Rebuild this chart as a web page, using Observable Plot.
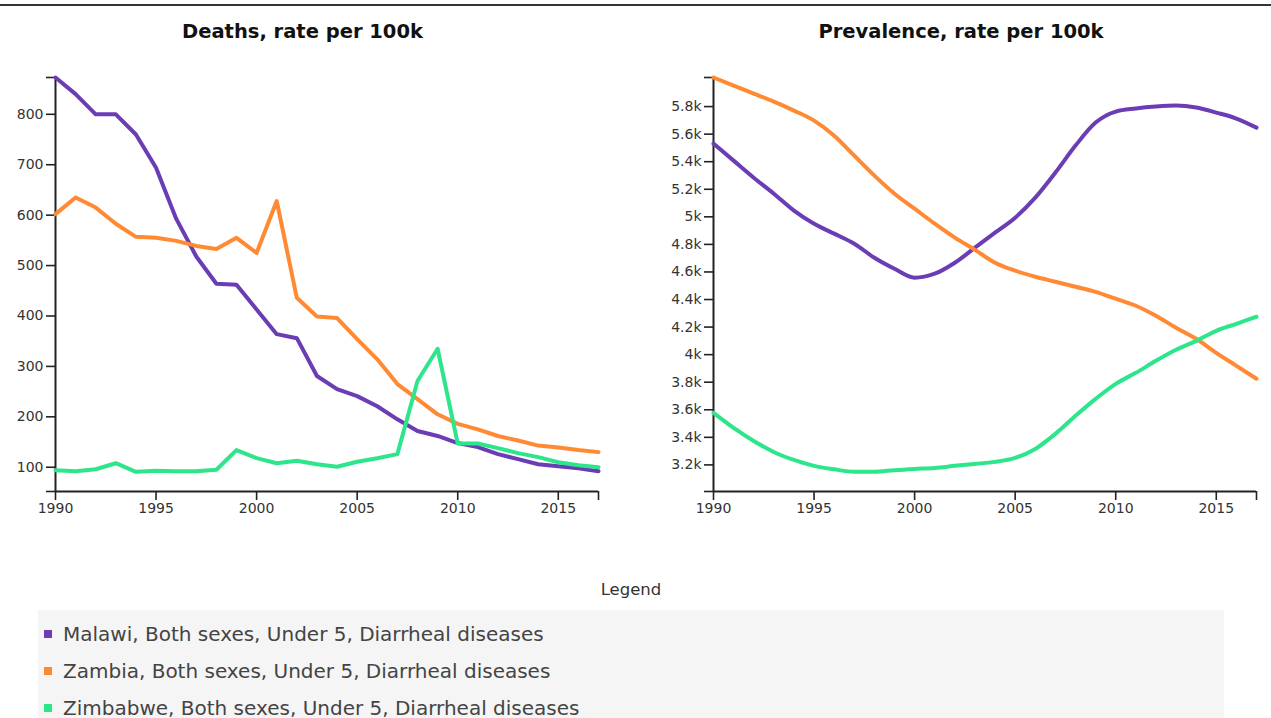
<!DOCTYPE html>
<html>
<head>
<meta charset="utf-8">
<script src="https://cdn.jsdelivr.net/npm/d3@7"></script>
<script src="https://cdn.jsdelivr.net/npm/@observablehq/plot@0.6"></script>
<style>
  html, body { margin: 0; padding: 0; background: #fff; width: 1271px; height: 718px; overflow: hidden; font-family: "DejaVu Sans", sans-serif; }
  #topline { position: absolute; left: 0; top: 4px; width: 1271px; height: 2px; background: #333; }
  .panel { position: absolute; top: 0; }
  .title { position: absolute; top: 20px; left: 0; width: 100%; text-align: center; font-weight: bold; font-size: 19.5px; color: #111; }
  .chart { position: absolute; top: 50px; left: 0; }
  #legendTitle { position: absolute; top: 580px; left: 0; width: 1262px; text-align: center; font-size: 16.5px; color: #333; }
  #legendBox { position: absolute; left: 38px; top: 610px; width: 1186px; height: 130px; background: #f5f5f5; }
  .item { position: absolute; left: 6px; height: 37px; line-height: 37px; font-size: 20px; color: #444; white-space: nowrap; }
  .swatch { display: inline-block; width: 8px; height: 8px; margin-right: 11px; vertical-align: middle; position: relative; top: -2px; }
</style>
</head>
<body>
<div id="topline"></div>
<div class="panel" id="left" style="left:0px;width:605px;"><div class="title">Deaths, rate per 100k</div><div class="chart" id="leftChart"></div></div>
<div class="panel" id="right" style="left:658px;width:606px;"><div class="title">Prevalence, rate per 100k</div><div class="chart" id="rightChart"></div></div>
<div id="legendTitle">Legend</div>
<div id="legendBox"></div>
<script>
// ---- data ----
const years = [1990,1991,1992,1993,1994,1995,1996,1997,1998,1999,2000,2001,2002,2003,2004,2005,2006,2007,2008,2009,2010,2011,2012,2013,2014,2015,2016,2017];
const seriesNames = ["Malawi, Both sexes, Under 5, Diarrheal diseases", "Zambia, Both sexes, Under 5, Diarrheal diseases", "Zimbabwe, Both sexes, Under 5, Diarrheal diseases"];
const seriesColors = ["#6a3db5", "#ff8a33", "#2de58b"];

const deathsMalawi   = [873,840,800,800,760,694,593,518,464,462,413,364,356,281,255,241,221,195,172,162,148,140,126,116,106,102,98,92];
const deathsZambia   = [602,635,615,583,557,555,549,539,533,555,525,628,436,399,396,354,314,265,235,205,186,175,162,153,143,139,134,130];
const deathsZimbabwe = [94,92,96,108,91,93,92,92,95,134,118,108,113,106,101,111,118,126,271,335,147,147,138,128,120,110,104,100];

const prevMalawi   = [5531,5408,5284,5168,5045,4950,4878,4805,4703,4623,4558,4587,4667,4776,4885,4994,5139,5321,5517,5684,5764,5786,5800,5807,5793,5756,5713,5647];
const prevZambia   = [6011,5952,5894,5836,5771,5698,5589,5444,5299,5168,5059,4950,4849,4760,4667,4609,4565,4529,4493,4456,4406,4355,4282,4195,4115,4013,3919,3825];
const prevZimbabwe = [3578,3469,3374,3294,3236,3193,3168,3150,3150,3162,3171,3178,3193,3207,3222,3251,3316,3425,3556,3679,3788,3868,3955,4035,4100,4173,4224,4275];

const xTicks = [1990,1995,2000,2005,2010,2015];
const deathsTicks = [100,200,300,400,500,600,700,800];
const prevTicks = [3200,3400,3600,3800,4000,4200,4400,4600,4800,5000,5200,5400,5600,5800];

// ---- build tables ----
function longTable(arrs) {
  const rows = [];
  arrs.forEach((arr, si) => arr.forEach((v, i) => rows.push({year: years[i], value: v, series: seriesNames[si]})));
  return rows;
}

function makeChart(rows, yTicks, yFormat, curve) {
  const vals = rows.map(d => d.value);
  const vmin = d3.min(vals), vmax = d3.max(vals);
  const ymin = vmin - 0.05 * (vmax - vmin);
  const xmin = d3.min(years), xmax = d3.max(years);
  const axisStyle = {stroke: "#222", strokeWidth: 1.6, fill: "#333"};
  return Plot.plot({
    width: 605,
    height: 471,
    marginLeft: 55,
    marginRight: 7,
    marginTop: 27,
    marginBottom: 30,
    style: {fontFamily: "DejaVu Sans, sans-serif", fontSize: "14px", background: "transparent", color: "#333"},
    x: {domain: [xmin, xmax], axis: null},
    y: {domain: [ymin, vmax], axis: null},
    color: {domain: seriesNames, range: seriesColors},
    marks: [
      Plot.axisY(yTicks, {...axisStyle, tickSize: 9, tickPadding: 3, tickFormat: yFormat, label: null}),
      Plot.axisY([ymin, vmax], {...axisStyle, tickSize: 9, tickFormat: () => "", label: null}),
      Plot.axisX(xTicks, {...axisStyle, tickSize: 9, tickPadding: 3, tickFormat: d3.format("d"), label: null}),
      Plot.axisX([xmax], {...axisStyle, tickSize: 9, tickFormat: () => "", label: null}),
      Plot.ruleX([xmin], {stroke: "#222", strokeWidth: 2}),
      Plot.ruleY([ymin], {stroke: "#222", strokeWidth: 2}),
      Plot.line(rows, {x: "year", y: "value", z: "series", stroke: "series", strokeWidth: 4, curve: curve, strokeLinejoin: "round"})
    ]
  });
}

document.getElementById("leftChart").appendChild(
  makeChart(longTable([deathsMalawi, deathsZambia, deathsZimbabwe]), deathsTicks, d3.format("d"), "linear")
);
document.getElementById("rightChart").appendChild(
  makeChart(longTable([prevMalawi, prevZambia, prevZimbabwe]), prevTicks, d3.format("~s"), "monotone-x")
);

// ---- legend ----
const box = document.getElementById("legendBox");
seriesNames.forEach((name, i) => {
  const it = document.createElement("div");
  it.className = "item";
  it.style.top = (6 + i * 37) + "px";
  const sw = document.createElement("span");
  sw.className = "swatch";
  sw.style.background = seriesColors[i];
  it.appendChild(sw);
  it.appendChild(document.createTextNode(name));
  box.appendChild(it);
});
</script>
</body>
</html>
